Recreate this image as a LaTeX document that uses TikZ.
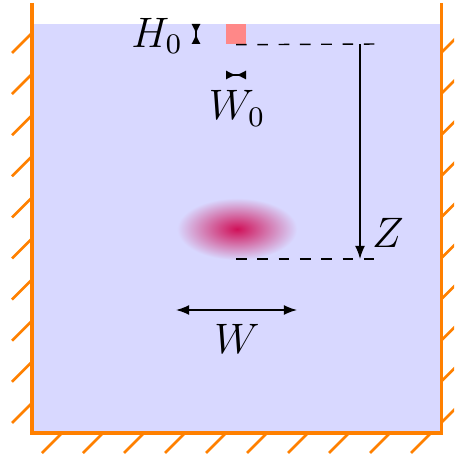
\documentclass[tikz,border=0pt]{standalone}
\usetikzlibrary{arrows.meta}
\definecolor{wallc}{RGB}{255,128,0}
\definecolor{waterc}{RGB}{216,216,255}
\definecolor{srcc}{RGB}{255,136,136}
\definecolor{blobc}{RGB}{208,16,88}
\begin{document}
\begin{tikzpicture}[x=0.2817pt,y=-0.2817pt,
  wall/.style={wallc,line width=0.85pt},
  hatch/.style={wallc,line width=0.75pt},
  dim/.style={black,line width=0.4pt},
  bigtip/.tip={Latex[length=3.7pt,width=2.8pt]},
  smalltip/.tip={Latex[reversed,length=2.8pt,width=2.6pt]},
  lab/.style={inner sep=0pt,font=\fontsize{11.6}{14}\selectfont}]
\useasboundingbox (0,0) rectangle (454,459);
\clip (0,0) rectangle (454,459);
% water
\fill[waterc] (32,24) rectangle (441,433);
% blob
\shade[inner color=blobc, outer color=waterc] (237,229) ellipse [x radius=60, y radius=31];
% source
\node (src) [fill=srcc, inner sep=0pt, minimum width=5.634pt, minimum height=5.634pt] at (236,34) {};
% coordinates
\coordinate (dtopend) at (380,44);
\coordinate (dbotstart) at (236,259);
\coordinate (dbotend) at (380,259);
\coordinate (ztop) at (360,44);
\coordinate (zbot) at (360,259);
\coordinate (wl) at (176,310);
\coordinate (wr) at (297,310);
\coordinate (hA) at (196,24);
\coordinate (hB) at (196,44);
\coordinate (wA) at (226,75);
\coordinate (wB) at (246,75);
% dashed guides
\draw[dim,dashed] (src.south) -- (dtopend);
\draw[dim,dashed] (dbotstart) -- (dbotend);
% Z arrow
\draw[dim,-{bigtip}] (ztop) -- (zbot);
\node (zlab) [lab] at (388,233) {$Z$};
% W arrow
\draw[dim,{bigtip}-{bigtip}] (wl) -- (wr);
\node (wlab) [lab] at (237,339) {$W$};
% H0 and W0 markers
\draw[dim,{smalltip}-{smalltip}] (hA) -- (hB);
\node (h0lab) [lab] at (157,36) {$H_0$};
\draw[dim,{smalltip}-{smalltip}] (wA) -- (wB);
\node (w0lab) [lab,anchor=north] at (237,90) {$W_0$};
% walls
\draw[wall] (32,3) -- (32,433) -- (441,433) -- (441,3);
\foreach \k in {0,...,9} {
  \draw[hatch] (32,{33+41.1*\k}) -- ++(-20,20);
  \draw[hatch] ({61+41*\k},434) -- ++(-19,19);
  \draw[hatch] (441,{53+41.1*\k}) -- ++(20,-20);
}
\end{tikzpicture}
\end{document}
